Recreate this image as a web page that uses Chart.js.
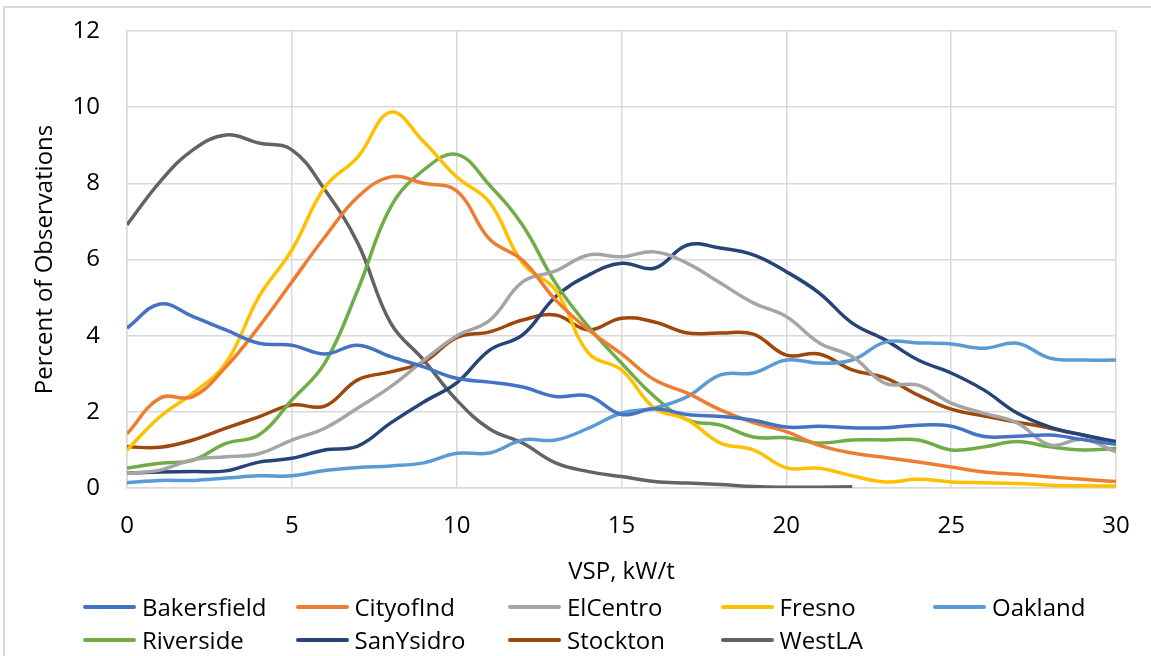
<!DOCTYPE html>
<html>
<head>
<meta charset="utf-8">
<script src="https://cdn.jsdelivr.net/npm/chart.js@4.4.1/dist/chart.umd.min.js"></script>
<style>
  html, body { margin: 0; padding: 0; background: #fff; }
  #wrap { position: relative; width: 1151px; height: 656px; overflow: hidden; font-family: "Open Sans", sans-serif; }
  #frame { position: absolute; left: 3px; top: 6px; width: 1200px; height: 700px; border: 2px solid #d9d9d9; }
  #myLineChart { position: absolute; left: 0; top: 0; }
  .legend { position: absolute; left: 0; top: 590px; width: 1151px; }
  .legend .item { position: absolute; display: flex; align-items: center; font-size: 24px; color: #000; white-space: nowrap; }
  .legend .swatch { width: 53px; height: 4px; margin-right: 6px; border-radius: 2px; }
</style>
</head>
<body>
<div id="wrap">
  <div id="frame"></div>
  <canvas id="myLineChart" width="1151" height="656"></canvas>
  <div class="legend" id="legend"></div>
</div>
<script>
// VSP bins 0..30
const vsp = [0,1,2,3,4,5,6,7,8,9,10,11,12,13,14,15,16,17,18,19,20,21,22,23,24,25,26,27,28,29,30];

const bakersfield = [4.2,4.83,4.5,4.15,3.8,3.75,3.52,3.75,3.45,3.18,2.88,2.78,2.65,2.4,2.42,1.93,2.08,1.93,1.88,1.78,1.6,1.62,1.58,1.58,1.65,1.62,1.35,1.36,1.39,1.27,1.15];
const cityofInd   = [1.42,2.36,2.4,3.18,4.23,5.41,6.59,7.64,8.17,8.0,7.8,6.53,5.98,4.94,4.15,3.52,2.84,2.49,2.05,1.72,1.48,1.12,0.92,0.8,0.68,0.55,0.42,0.36,0.29,0.23,0.17];
const elCentro    = [0.38,0.47,0.74,0.82,0.9,1.26,1.57,2.1,2.66,3.35,3.99,4.4,5.41,5.7,6.12,6.07,6.2,5.9,5.38,4.86,4.5,3.81,3.45,2.75,2.7,2.23,1.96,1.71,1.13,1.28,0.95];
const fresno      = [1.0,1.87,2.49,3.28,5.02,6.25,7.9,8.69,9.87,9.09,8.17,7.5,5.9,5.2,3.54,3.1,2.1,1.79,1.18,1.0,0.53,0.52,0.32,0.16,0.23,0.16,0.14,0.12,0.07,0.06,0.05];
const oakland     = [0.14,0.2,0.2,0.26,0.32,0.32,0.46,0.54,0.58,0.66,0.91,0.92,1.26,1.26,1.57,1.97,2.1,2.4,2.97,3.02,3.36,3.28,3.36,3.83,3.81,3.78,3.67,3.8,3.41,3.36,3.36];
const riverside   = [0.52,0.65,0.73,1.17,1.39,2.31,3.28,5.2,7.38,8.35,8.76,7.95,6.9,5.38,4.23,3.28,2.4,1.79,1.65,1.34,1.32,1.18,1.26,1.26,1.26,1.0,1.08,1.22,1.08,1.0,1.04];
const sanYsidro   = [0.39,0.42,0.43,0.45,0.68,0.78,1.0,1.1,1.71,2.26,2.76,3.62,4.02,5.02,5.59,5.9,5.77,6.38,6.3,6.12,5.68,5.12,4.33,3.89,3.36,3.02,2.57,1.97,1.6,1.39,1.22];
const stockton    = [1.08,1.07,1.26,1.57,1.87,2.18,2.15,2.84,3.05,3.31,3.95,4.1,4.41,4.54,4.15,4.46,4.36,4.07,4.07,4.04,3.49,3.52,3.1,2.89,2.44,2.07,1.89,1.73,1.57,1.39,1.18];
const westLA      = [6.91,8.04,8.88,9.27,9.06,8.88,7.83,6.43,4.33,3.36,2.31,1.55,1.18,0.66,0.43,0.3,0.17,0.13,0.09,0.04,0.02,0.02,0.03];

const cities = ['Bakersfield','CityofInd','ElCentro','Fresno','Oakland','Riverside','SanYsidro','Stockton','WestLA'];
const seriesData = [bakersfield, cityofInd, elCentro, fresno, oakland, riverside, sanYsidro, stockton, westLA];
const colors = ['#4472C4','#ED7D31','#A5A5A5','#FFC000','#5B9BD5','#70AD47','#264478','#9E480E','#636363'];

const font = { family: '"Open Sans", sans-serif', size: 24 };
const gridColor = '#d9d9d9';

const datasets = cities.map((c, i) => ({
  label: c,
  data: seriesData[i],
  borderColor: colors[i],
  backgroundColor: colors[i],
  borderWidth: 3.5,
  pointRadius: 0,
  tension: 0.4,
  fill: false
}));

new Chart(document.getElementById('myLineChart'), {
  type: 'line',
  data: { labels: vsp, datasets: datasets },
  options: {
    responsive: false,
    animation: false,
    layout: { padding: { top: 31, right: 35, bottom: 68, left: 0 } },
    plugins: { legend: { display: false }, tooltip: { enabled: false } },
    scales: {
      x: {
        type: 'linear',
        min: 0, max: 30,
        ticks: { stepSize: 5, color: '#000', font: font, padding: 24, maxRotation: 0 },
        grid: { color: gridColor, lineWidth: 1.5, drawTicks: false },
        border: { color: gridColor, width: 1.5 },
        title: { display: true, text: 'VSP, kW/t', color: '#000', font: font, padding: { top: 0, bottom: 1 } },
        afterFit: (s) => { s.height = 100; s.paddingLeft = 0; s.paddingRight = 0; }
      },
      y: {
        min: 0, max: 12,
        ticks: { stepSize: 2, color: '#000', font: font, padding: 27 },
        grid: { color: gridColor, lineWidth: 1.5, drawTicks: false },
        border: { color: gridColor, width: 1.5 },
        title: { display: true, text: 'Percent of Observations', color: '#000', font: font, padding: { top: 31, bottom: 0 } },
        afterFit: (s) => { s.width = 127; s.paddingTop = 0; s.paddingBottom = 0; }
      }
    }
  }
});

// legend laid out in fixed columns like the original
const legend = document.getElementById('legend');
cities.forEach((c, i) => {
  const item = document.createElement('div');
  item.className = 'item';
  item.style.left = (83 + (i % 5) * 212.5) + 'px';
  item.style.top = (Math.floor(i / 5) * 33) + 'px';
  item.innerHTML = '<span class="swatch" style="background:' + colors[i] + '"></span>' + c;
  legend.appendChild(item);
});
</script>
</body>
</html>
